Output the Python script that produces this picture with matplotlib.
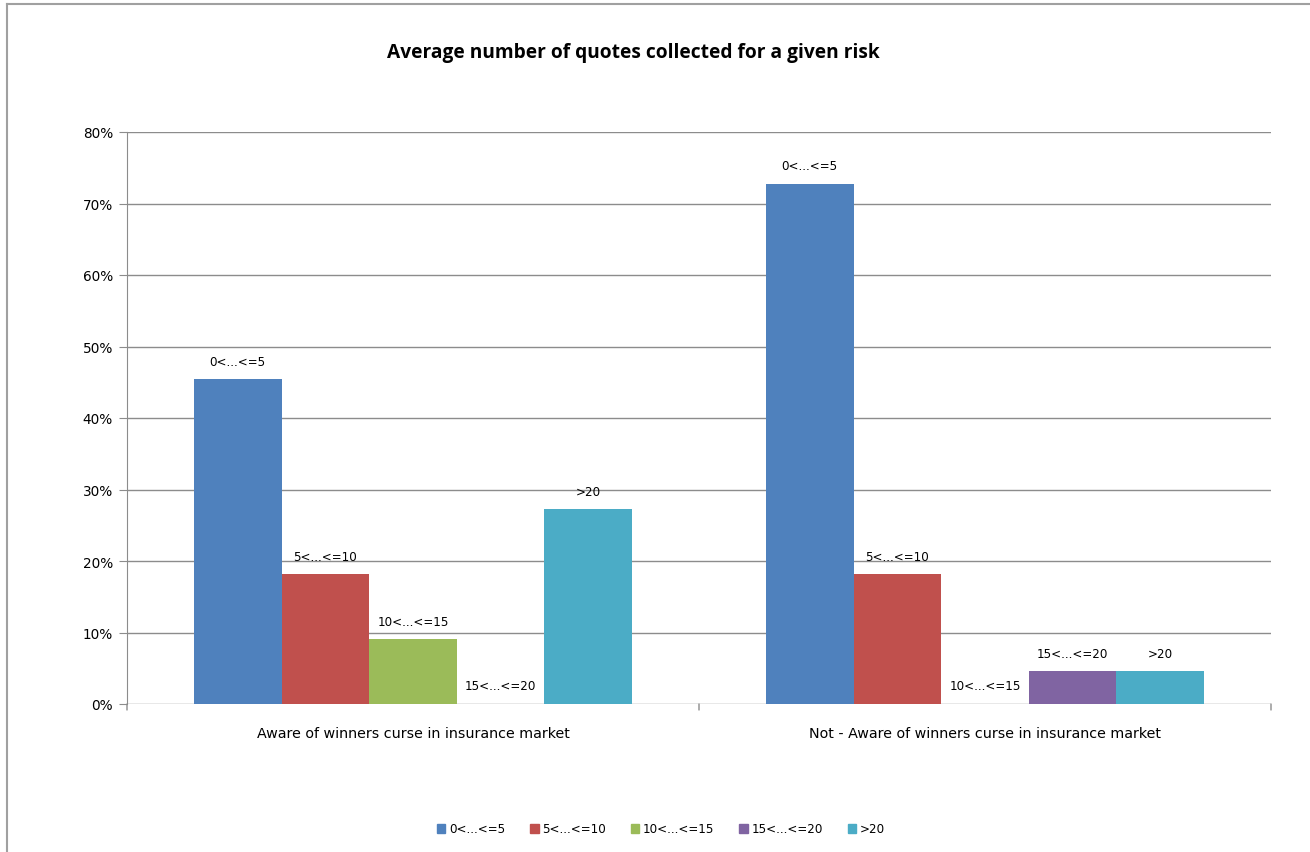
import matplotlib
matplotlib.use("Agg")
import matplotlib.pyplot as plt
import numpy as np
from matplotlib.patches import Rectangle
from matplotlib.lines import Line2D

categories = ["Aware of winners curse in insurance market",
              "Not - Aware of winners curse in insurance market"]
series = ["0<...<=5", "5<...<=10", "10<...<=15", "15<...<=20", ">20"]
values = {
    "0<...<=5":   [45.45, 72.73],
    "5<...<=10":  [18.18, 18.18],
    "10<...<=15": [9.09, 0.0],
    "15<...<=20": [0.0, 4.55],
    ">20":        [27.27, 4.55],
}
colors = ["#4F81BD", "#C0504D", "#9BBB59", "#8064A2", "#4BACC6"]
yticks = [0, 10, 20, 30, 40, 50, 60, 70, 80]

W, H = 1310, 853
FS = 9.8
FL = 8.6
fig = plt.figure(figsize=(W / 100, H / 100), dpi=100)
ax = fig.add_axes([127 / W, 1 - 705 / H, (1271 - 127) / W, (705 - 133) / H])

n = len(series)
bw = 0.766 / n
x = np.arange(len(categories))
for i, s in enumerate(series):
    pos = x + (i - (n - 1) / 2) * bw
    ax.bar(pos, values[s], width=bw, color=colors[i], zorder=3)
    for px, v in zip(pos, values[s]):
        ax.annotate(s, (px, v), xytext=(0, 18), textcoords="offset pixels",
                    ha="center", va="center", fontsize=FL, family="DejaVu Sans",
                    color="#000000", zorder=4)

ax.set_xlim(-0.5, len(categories) - 0.5)
ax.set_ylim(0, 80)
ax.set_yticks(yticks)
ax.set_yticklabels([f"{t}%" for t in yticks], fontsize=FS, family="DejaVu Sans")
ax.yaxis.grid(True, color="#8c8c8c", linewidth=1.0, zorder=0)
ax.set_xticks([])
for sp in ["top", "right", "bottom"]:
    ax.spines[sp].set_visible(False)
ax.spines["left"].set_color("#8c8c8c")
ax.tick_params(axis="y", length=6, color="#8c8c8c", pad=4)

# category boundary ticks
for b in [-0.5, 0.5, 1.5]:
    ax.annotate("", xy=(b, 0), xytext=(0, -6), textcoords="offset pixels",
                arrowprops=dict(arrowstyle="-", color="#8c8c8c", lw=1.0,
                                shrinkA=0, shrinkB=0))
for xi, c in zip(x, categories):
    ax.annotate(c, (xi, 0), xytext=(0, -29), textcoords="offset pixels",
                ha="center", va="center", fontsize=10.3, family="DejaVu Sans")

fig.text(633 / W, 1 - 53 / H, "Average number of quotes collected for a given risk",
         ha="center", va="center", fontsize=13.8, fontweight="bold", family="Open Sans")

handles = [Rectangle((0, 0), 1, 1, color=c) for c in colors]
leg = fig.legend(handles, series, loc="center", bbox_to_anchor=(661 / W, 1 - 830 / H),
                 ncol=5, frameon=False, fontsize=FL, handlelength=0.7, handleheight=0.7,
                 columnspacing=2.1, handletextpad=0.3)

# chart border (top and left visible)
fig.add_artist(Line2D([7 / W, 1], [1 - 5 / H, 1 - 5 / H], color="#a0a0a0", lw=1.5))
fig.add_artist(Line2D([7 / W, 7 / W], [0, 1 - 5 / H], color="#a0a0a0", lw=1.5))

fig.savefig("out.png", dpi=100)
